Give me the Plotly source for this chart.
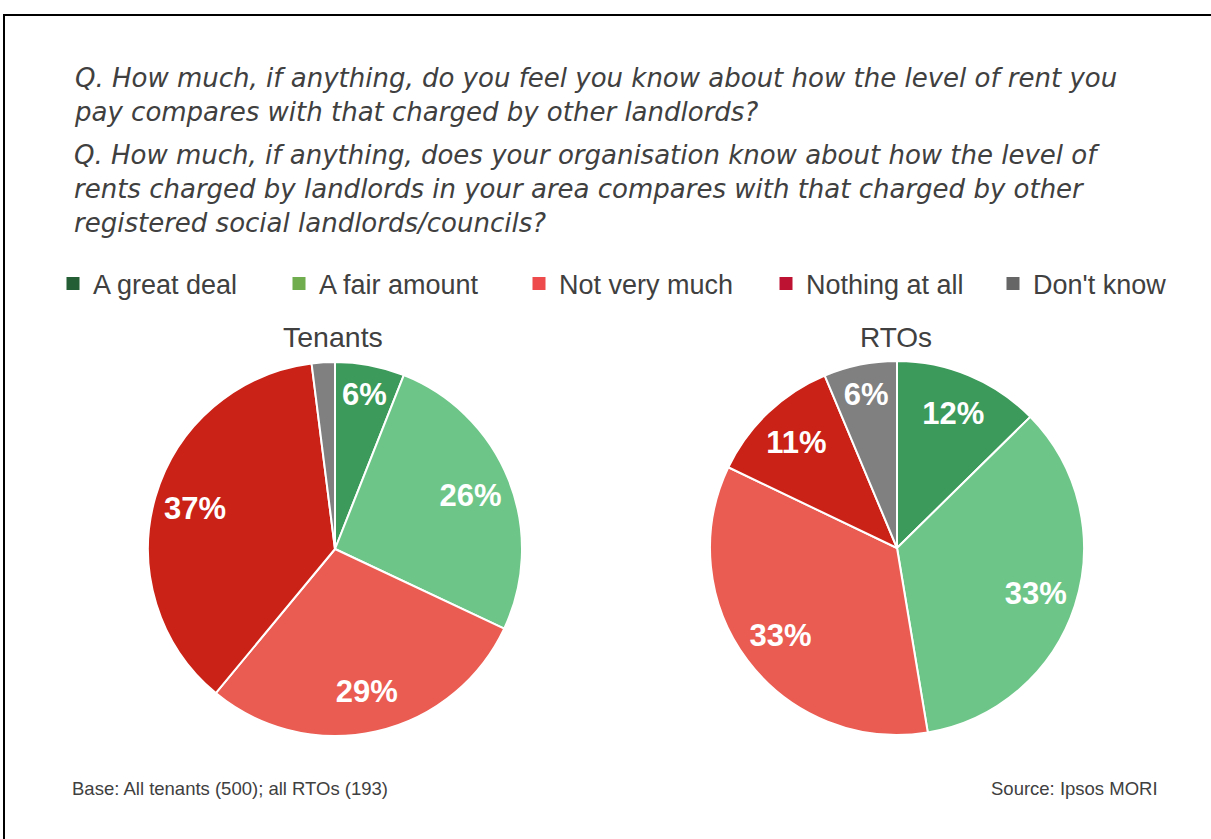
import plotly.graph_objects as go

W, H = 1211, 839

categories = ["A great deal", "A fair amount", "Not very much", "Nothing at all", "Don't know"]
tenants_values = [6, 26, 29, 37, 2]
rtos_values = [12, 33, 33, 11, 6]
pie_colors = ["#3C9A5A", "#6DC688", "#EA5B51", "#CA2216", "#808080"]
legend_colors = ["#245E34", "#6FAD4E", "#EE4C4C", "#BE1232", "#666666"]

question_1 = ["Q. How much, if anything, do you feel you know about how the level of rent you",
              "pay compares with that charged by other landlords?"]
question_2 = ["Q. How much, if anything, does your organisation know about how the level of",
              "rents charged by landlords in your area compares with that charged by other",
              "registered social landlords/councils?"]

FONT = "Liberation Sans, Arial, sans-serif"
QFONT = "DejaVu Sans, Liberation Sans, sans-serif"
TXT = "#404040"

def px(x):
    return x / W

def py(y):
    return 1 - y / H

fig = go.Figure()

def pie_pair(vals, name, cx, cy, r):
    dom = dict(x=[px(cx - r), px(cx + r)], y=[py(cy + r), py(cy - r)])
    base = go.Pie(
        labels=categories, values=vals, name=name, sort=False,
        direction="clockwise", rotation=0,
        marker=dict(colors=pie_colors, line=dict(color="white", width=2)),
        textinfo="none", showlegend=False, domain=dom,
        hoverinfo="label+percent",
    )
    # transparent ring that carries the percentage labels (placed in the outer part of each slice)
    ring = go.Pie(
        labels=categories, values=vals, name=name, sort=False,
        direction="clockwise", rotation=0, hole=0.56,
        marker=dict(colors=["rgba(0,0,0,0)"] * len(vals), line=dict(width=0)),
        texttemplate=[f"{v}%" if v >= 5 else "" for v in vals],
        textinfo="text", textposition="inside", insidetextorientation="horizontal",
        textfont=dict(family=FONT, size=31, color="white", weight="bold"),
        showlegend=False, domain=dom, hoverinfo="skip",
    )
    return base, ring

for tr in pie_pair(tenants_values, "Tenants", 335, 549, 187):
    fig.add_trace(tr)
for tr in pie_pair(rtos_values, "RTOs", 897, 548, 187):
    fig.add_trace(tr)

# legend entries (one legend per item for exact positioning)
legend_x_px = [67, 293, 533, 780, 1007]
for i, (cat, col) in enumerate(zip(categories, legend_colors)):
    lname = "legend" if i == 0 else f"legend{i+1}"
    fig.add_trace(go.Scatter(
        x=[None], y=[None], mode="markers", name=cat,
        marker=dict(symbol="square", size=13, color=col),
        showlegend=True, legend=lname, hoverinfo="skip",
    ))
    fig.update_layout(**{lname: dict(
        x=px(legend_x_px[i] - 14), y=py(284), xanchor="left", yanchor="middle",
        orientation="h", bgcolor="rgba(0,0,0,0)", itemwidth=30,
        font=dict(family=FONT, size=27, color=TXT), tracegroupgap=0,
    )})

annotations = [
    dict(text="<br>".join(question_1), x=px(72), y=py(95.5), xref="paper", yref="paper",
         xanchor="left", yanchor="middle", align="left", showarrow=False,
         font=dict(family=QFONT, size=26, color=TXT, style="italic")),
    dict(text="<br>".join(question_2), x=px(72), y=py(189), xref="paper", yref="paper",
         xanchor="left", yanchor="middle", align="left", showarrow=False,
         font=dict(family=QFONT, size=26, color=TXT, style="italic")),
    dict(text="Tenants", x=px(333), y=py(337), xref="paper", yref="paper",
         xanchor="center", yanchor="middle", showarrow=False,
         font=dict(family=FONT, size=28.5, color=TXT)),
    dict(text="RTOs", x=px(896), y=py(337), xref="paper", yref="paper",
         xanchor="center", yanchor="middle", showarrow=False,
         font=dict(family=FONT, size=28, color=TXT)),
    dict(text="Base: All tenants (500); all RTOs (193)", x=px(70), y=py(788),
         xref="paper", yref="paper", xanchor="left", yanchor="middle",
         showarrow=False, font=dict(family=FONT, size=18.5, color=TXT)),
    dict(text="Source: Ipsos MORI", x=px(1160), y=py(788),
         xref="paper", yref="paper", xanchor="right", yanchor="middle",
         showarrow=False, font=dict(family=FONT, size=18.5, color=TXT)),
]

fig.update_layout(
    width=W, height=H,
    margin=dict(l=0, r=0, t=0, b=0),
    paper_bgcolor="white", plot_bgcolor="white",
    xaxis=dict(visible=False, domain=[0, 0.01]),
    yaxis=dict(visible=False, domain=[0, 0.01]),
    annotations=annotations,
    shapes=[dict(type="rect", xref="paper", yref="paper",
                 x0=px(4), x1=px(1230), y0=py(860), y1=py(15),
                 line=dict(color="black", width=2), fillcolor="rgba(0,0,0,0)", layer="above")],
)

fig.write_html(
    "out.html",
    config={"displayModeBar": False},
    post_script="document.body.style.margin='0';document.body.style.overflow='hidden';",
)
